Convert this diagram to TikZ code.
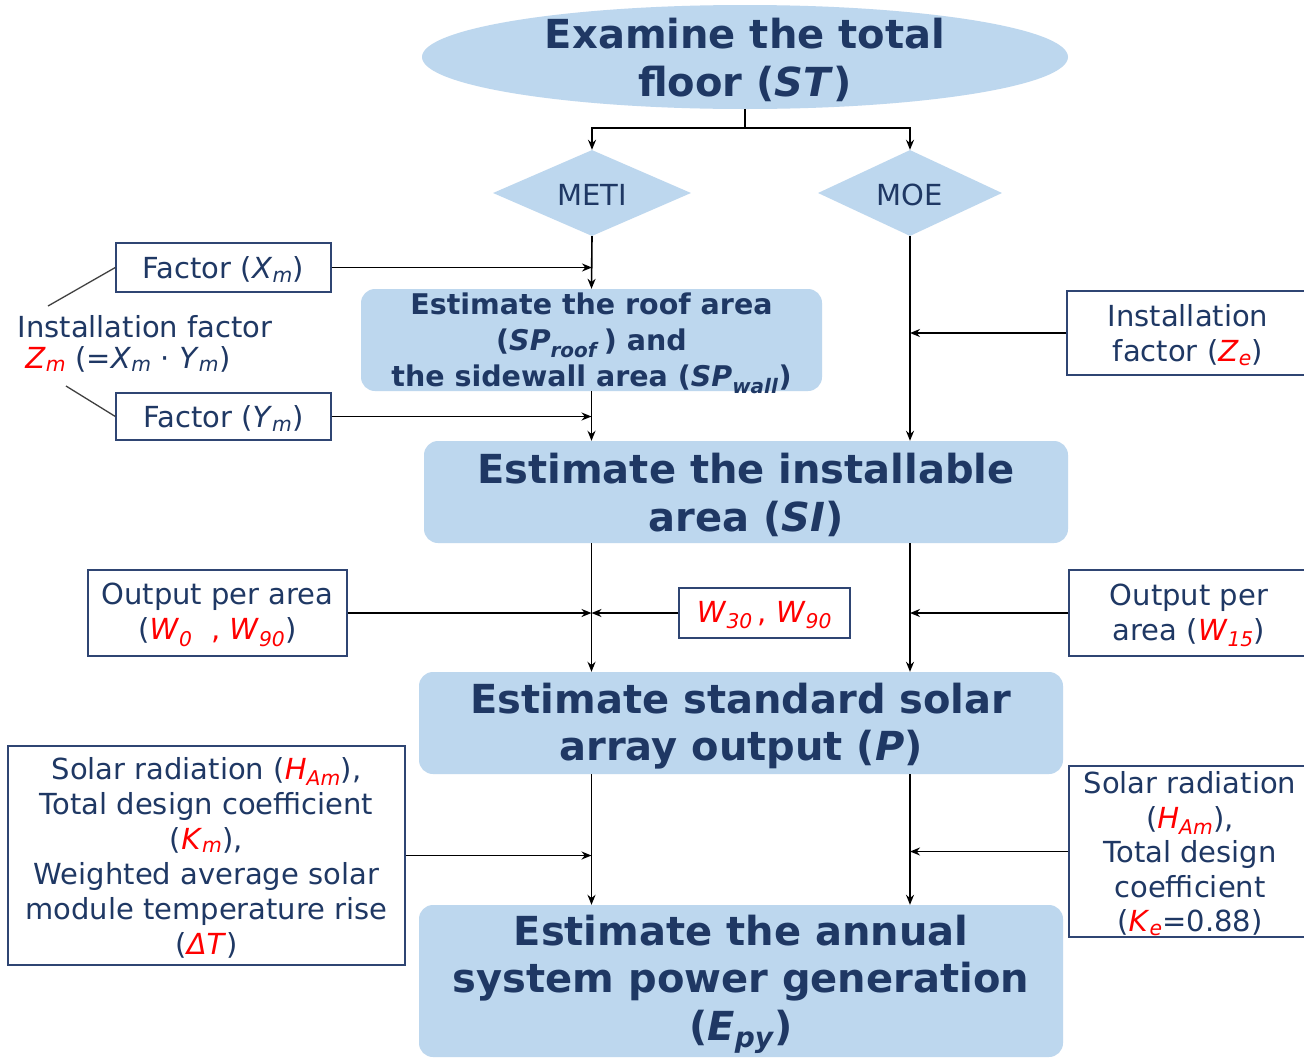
\documentclass[tikz,border=0pt]{standalone}
\usepackage{fontspec}
\setmainfont{DejaVu Sans}
\usetikzlibrary{shapes.geometric,arrows.meta}
\definecolor{fillb}{RGB}{189,215,238}
\definecolor{navy}{RGB}{31,56,100}
\definecolor{bord}{RGB}{47,69,115}
\newcommand{\rd}[1]{\textcolor{red}{#1}}
\newcommand{\ssb}[1]{\textsubscript{#1}}
\begin{document}
\begin{tikzpicture}[x=1pt,y=-1pt,
  mainbox/.style={fill=fillb, rounded corners=14pt, draw=none, inner sep=0},
  bigtxt/.style={text=navy, font=\bfseries\fontsize{40}{47.5}\selectfont, align=center, inner sep=0, yshift=-3pt},
  midtxt/.style={text=navy, font=\bfseries\fontsize{28.5}{36}\selectfont, align=center, inner sep=0, yshift=-3.5pt},
  inbox/.style={draw=bord, line width=1.3pt, fill=white, inner sep=0},
  smtxt/.style={text=navy, font=\fontsize{29}{35}\selectfont, align=center, inner sep=0, yshift=-2pt},
  arr/.style={-{Stealth[length=10pt,width=8pt]}, line width=1.6pt, black},
  ln/.style={line width=1.6pt, black}]
\useasboundingbox (0,0) rectangle (1304,1058);
\fill[white] (0,0) rectangle (1304,1058);

% top ellipse
\node[ellipse, fill=fillb, minimum width=646pt, minimum height=104pt, inner sep=0] (st) at (745,57) {};
\node[bigtxt] (sttxt) at (st.center) {Examine the total\\floor (\textit{ST})};

% diamonds
\node[diamond, fill=fillb, minimum width=198pt, minimum height=86pt, inner sep=0] (meti) at (592,193) {};
\node[smtxt] at (meti.center) {METI};
\node[diamond, fill=fillb, minimum width=184pt, minimum height=86pt, inner sep=0] (moe) at (910,193) {};
\node[smtxt] at (moe.center) {MOE};

\coordinate (jn) at (745,128);
\draw[ln] (st.south) -- (jn);
\draw[arr] (jn) -| (meti.north);
\draw[arr] (jn) -| (moe.north);

% roof box
\node[mainbox, minimum width=461pt, minimum height=102pt] (roof) at (591.5,340) {};
\node[midtxt] at (roof.center) {Estimate the roof area\\(\textit{SP}\ssb{\textit{roof}}\,) and\\the sidewall area (\textit{SP}\ssb{\textit{wall}})};

% factor boxes
\node[inbox, minimum width=215pt, minimum height=49pt] (xm) at (223.5,267.5) {};
\node[smtxt] at (xm.center) {Factor (\textit{X}\ssb{\textit{m}})};
\node[inbox, minimum width=215pt, minimum height=47pt] (ym) at (223.5,416.5) {};
\node[smtxt] at (ym.center) {Factor (\textit{Y}\ssb{\textit{m}})};
\node[smtxt] (zm1) at (145,325) {Installation factor};
\node[smtxt] (zm2) at (128,357) {\rd{\textit{Z}\ssb{\textit{m}}} (=\textit{X}\ssb{\textit{m}} · \textit{Y}\ssb{\textit{m}})};
\coordinate (za) at (48,306);
\coordinate (zb) at (66,386);
\draw[line width=1.3pt, black!75] (za) -- (xm.west);
\draw[line width=1.3pt, black!75] (zb) -- (ym.west);

% Ze box
\node[inbox, minimum width=242pt, minimum height=84pt] (ze) at (1188,333) {};
\node[smtxt] at (ze.center) {Installation\\factor (\rd{\textit{Z}\ssb{\textit{e}}})};

% SI box
\node[mainbox, minimum width=644pt, minimum height=102pt] (si) at (746,492) {};
\node[bigtxt] at (si.center) {Estimate the installable\\area (\textit{SI})};

\draw[arr] (meti.south) -- (roof.north);
\draw[arr] (xm.east) -- (xm.east -| meti.south);
\draw[arr] (roof.south) -- (roof.south |- si.north);
\draw[arr] (ym.east) -- (ym.east -| roof.south);
\draw[arr] (moe.south) -- (moe.south |- si.north);
\draw[arr] (ze.west) -- (ze.west -| moe.south);

% output boxes
\node[inbox, minimum width=259pt, minimum height=86pt] (w0) at (217.5,613) {};
\node[smtxt] at (w0.center) {Output per area\\(\rd{\textit{W}\ssb{\textit{0}}\ \ , \textit{W}\ssb{\textit{90}}})};
\node[inbox, minimum width=171pt, minimum height=50pt] (w30) at (764.5,613) {};
\node[smtxt] at (w30.center) {\rd{\textit{W}\ssb{\textit{30}}\,, \textit{W}\ssb{\textit{90}}}};
\node[inbox, minimum width=240pt, minimum height=86pt] (w15) at (1189,613) {};
\node[smtxt] at (w15.center) {Output per\\area (\rd{\textit{W}\ssb{\textit{15}}})};

% P box
\node[mainbox, minimum width=644pt, minimum height=102pt] (p) at (741,723) {};
\node[bigtxt] at (p.center) {Estimate standard solar\\array output (\textit{P})};

\draw[arr] (si.south -| roof.south) -- (p.north -| roof.south);
\draw[arr] (si.south -| moe.south) -- (p.north -| moe.south);
\draw[arr] (w0.east) -- (w0.east -| roof.south);
\draw[arr] (w30.west) -- (w30.west -| roof.south);
\draw[arr] (w15.west) -- (w15.west -| moe.south);

% bottom input boxes
\node[inbox, minimum width=397pt, minimum height=219pt] (lft) at (206.5,855.5) {};
\node[smtxt] at (lft.center) {Solar radiation (\rd{\textit{H}\ssb{\textit{Am}}}),\\Total design coefficient\\(\rd{\textit{K}\ssb{\textit{m}}}),\\Weighted average solar\\module temperature rise\\(\rd{\textit{ΔT}})};
\node[inbox, minimum width=242pt, minimum height=171pt] (rgt) at (1190,851.5) {};
\node[smtxt, font=\fontsize{29}{34.5}\selectfont] at (rgt.center) {Solar radiation\\(\rd{\textit{H}\ssb{\textit{Am}}}),\\Total design\\coefficient\\(\rd{\textit{K}\ssb{\textit{e}}}=0.88)};

% E box
\node[mainbox, minimum width=644pt, minimum height=152pt] (e) at (741,981) {};
\node[bigtxt] at (e.center) {Estimate the annual\\system power generation\\(\textit{E}\ssb{\textit{py}})};

\draw[arr] (p.south -| roof.south) -- (e.north -| roof.south);
\draw[arr] (p.south -| moe.south) -- (e.north -| moe.south);
\draw[arr] (lft.east) -- (lft.east -| roof.south);
\draw[arr] (rgt.west) -- (rgt.west -| moe.south);
\end{tikzpicture}
\end{document}
